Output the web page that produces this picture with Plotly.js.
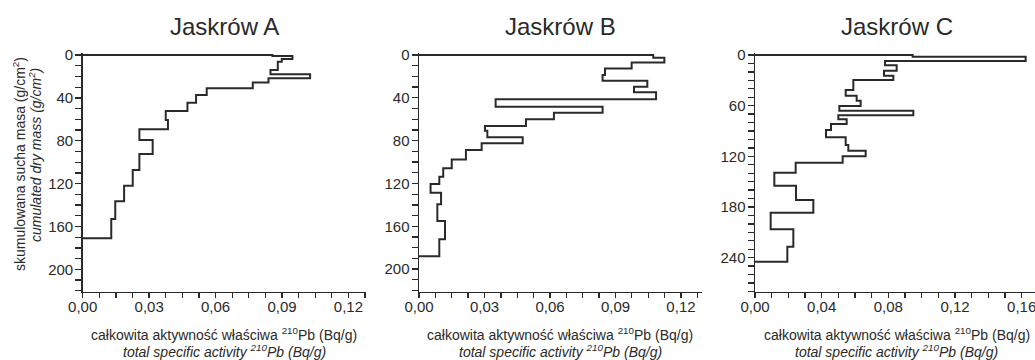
<!DOCTYPE html>
<html>
<head>
<meta charset="utf-8">
<script src="https://cdn.plot.ly/plotly-3.0.1.min.js"></script>
<style>
  html, body { margin: 0; padding: 0; background: #fff; overflow: hidden; }
  #chart { width: 1035px; height: 360px; }
</style>
</head>
<body>
<div id="chart"></div>
<script>
// ---- Data ----
// Layer boundaries: cumulated dry mass (g/cm2), n+1 values; activity: n values (Bq/g)
const panelTitles = ["Jaskrów A", "Jaskrów B", "Jaskrów C"];

const massA = [0, 1, 3.7, 6.2, 14, 18, 21.8, 25.7, 31.1, 37.3, 44.5, 52.3, 60.7, 69.4, 79.3, 92.4, 107.3, 122, 136.5, 153, 171];
const activityA = [0.0857, 0.0947, 0.0899, 0.0881, 0.0848, 0.1027, 0.0839, 0.0768, 0.0560, 0.0512, 0.0473, 0.0375, 0.0385, 0.0256, 0.0316, 0.0256, 0.0226, 0.0187, 0.0147, 0.0129];

const massB = [0, 2.5, 6.9, 12.5, 18.7, 24, 29.6, 34.9, 41.4, 48.3, 53.9, 60.1, 66.4, 70.7, 76.9, 82.5, 88.8, 97.5, 105.9, 113.7, 120.6, 128.7, 139.3, 155.1, 172, 187.9];
const activityB = [0.1073, 0.1124, 0.0974, 0.0852, 0.0841, 0.1046, 0.0985, 0.1086, 0.0351, 0.0841, 0.0618, 0.0490, 0.0302, 0.0313, 0.0475, 0.0287, 0.0215, 0.0150, 0.0111, 0.0093, 0.0053, 0.0101, 0.0084, 0.0119, 0.0093];

const massC = [0, 2, 7.1, 12.2, 18.5, 24.5, 29.6, 41.4, 48.2, 54.1, 60.4, 65.9, 71.4, 76.2, 81.7, 88.8, 97.5, 106.6, 113.3, 120, 127.5, 139.3, 154.7, 171.7, 186.7, 206.4, 227, 244.8];
const activityC = [0.0946, 0.1624, 0.0780, 0.0850, 0.0774, 0.0830, 0.0590, 0.0544, 0.0610, 0.0634, 0.0506, 0.0950, 0.0500, 0.0550, 0.0456, 0.0426, 0.0544, 0.0560, 0.0664, 0.0526, 0.0244, 0.0116, 0.0246, 0.0350, 0.0094, 0.0230, 0.0194];

const xTicksAB = [0, 0.03, 0.06, 0.09, 0.12];
const xTicksC = [0, 0.04, 0.08, 0.12, 0.16];
const yTicksAB = [0, 40, 80, 120, 160, 200];
const yTicksC = [0, 60, 120, 180, 240];

const xTitlePL = "całkowita aktywność właściwa <sup>210</sup>Pb (Bq/g)";
const xTitleEN = "<i>total specific activity <sup>210</sup>Pb (Bq/g)</i>";
const yTitlePL = "skumulowana sucha masa (g/cm<sup>2</sup>)";
const yTitleEN = "<i>cumulated dry mass (g/cm<sup>2</sup>)</i>";

// ---- Build step profiles ----
function stepProfile(bounds, vals) {
  const x = [0], y = [bounds[0]];
  for (let i = 0; i < vals.length; i++) {
    x.push(vals[i], vals[i]);
    y.push(bounds[i], bounds[i + 1]);
  }
  x.push(0); y.push(bounds[bounds.length - 1]);
  return {x, y};
}

const W = 1035, H = 360;
const FONT = "Liberation Sans, Arial, Helvetica, sans-serif";
const INK = "#2a2a2a";

const panels = [
  {mass: massA, act: activityA, xdom: [82.7 / W, 365.7 / W], xr: [0, 0.1278], xt: xTicksAB, xminor: 0.0075, yr: [220.9, -1.5], yt: yTicksAB},
  {mass: massB, act: activityB, xdom: [419 / W, 701.7 / W], xr: [0, 0.1295], xt: xTicksAB, xminor: 0.0075, yr: [221.1, -1.5], yt: yTicksAB},
  {mass: massC, act: activityC, xdom: [755 / W, 1], xr: [0, 0.168], xt: xTicksC, xminor: 0.01, yr: [280.3, -1.9], yt: yTicksC}
];

const ydom = [1 - 291.7 / H, 1 - 53.4 / H];
const traces = [];
const layout = {
  width: W, height: H, autosize: false,
  margin: {l: 0, r: 0, t: 0, b: 0, pad: 0},
  paper_bgcolor: "#fff", plot_bgcolor: "#fff",
  showlegend: false,
  separators: ", ",
  font: {family: FONT, size: 14, color: INK},
  annotations: []
};

panels.forEach((p, i) => {
  const sfx = i === 0 ? "" : String(i + 1);
  const s = stepProfile(p.mass, p.act);
  traces.push({
    type: "scatter", mode: "lines",
    x: s.x, y: s.y,
    xaxis: "x" + sfx, yaxis: "y" + sfx,
    line: {color: INK, width: 2, shape: "linear"},
    hoverinfo: "skip"
  });
  layout["xaxis" + sfx] = {
    domain: p.xdom, range: p.xr, anchor: "y" + sfx,
    showgrid: false, zeroline: false, showline: true, linecolor: INK, linewidth: 1.5,
    ticks: "outside", ticklen: 5, tickwidth: 1.3, tickcolor: INK,
    tickmode: "array", tickvals: p.xt, tickformat: ".2f",
    ticklabelstandoff: -4, ticklabeloverflow: "allow",
    tickfont: {family: FONT, size: 15, color: INK},
    minor: {dtick: p.xminor, tick0: 0, ticks: "outside", ticklen: 5, tickwidth: 1.3, tickcolor: INK, showgrid: false},
    automargin: false, fixedrange: true
  };
  layout["yaxis" + sfx] = {
    domain: ydom, range: p.yr, anchor: "x" + sfx,
    showgrid: false, zeroline: false, showline: true, linecolor: INK, linewidth: 1.5,
    ticks: "outside", ticklen: 6, tickwidth: 1.3, tickcolor: INK,
    tickmode: "array", tickvals: p.yt,
    ticklabelstandoff: -1, ticklabeloverflow: "allow",
    tickfont: {family: FONT, size: 15, color: INK},
    minor: {dtick: 10, tick0: 0, ticks: "outside", ticklen: 6, tickwidth: 1.3, tickcolor: INK, showgrid: false},
    automargin: false, fixedrange: true
  };
  const cx = (p.xdom[0] + p.xdom[1]) / 2;
  const cxTitle = i === 2 ? (755 + 283 / 2) / W : cx;
  layout.annotations.push(
    {text: panelTitles[i], xref: "paper", yref: "paper", x: cxTitle, y: 1 - 27 / H,
     xanchor: "center", yanchor: "middle", showarrow: false,
     font: {family: FONT, size: 24, color: INK}},
    {text: xTitlePL, xref: "paper", yref: "paper", x: cxTitle, y: 1 - 334 / H,
     xanchor: "center", yanchor: "middle", showarrow: false,
     font: {family: FONT, size: 14, color: INK}},
    {text: xTitleEN, xref: "paper", yref: "paper", x: cxTitle, y: 1 - 351 / H,
     xanchor: "center", yanchor: "middle", showarrow: false,
     font: {family: FONT, size: 14, color: INK}}
  );
});

layout.annotations.push(
  {text: yTitlePL, xref: "paper", yref: "paper", x: 19 / W, y: 1 - 164 / H,
   xanchor: "center", yanchor: "middle", textangle: -90, showarrow: false,
   font: {family: FONT, size: 14, color: INK}},
  {text: yTitleEN, xref: "paper", yref: "paper", x: 35 / W, y: 1 - 155 / H,
   xanchor: "center", yanchor: "middle", textangle: -90, showarrow: false,
   font: {family: FONT, size: 14, color: INK}}
);

Plotly.newPlot("chart", traces, layout, {staticPlot: true, displayModeBar: false});
</script>
</body>
</html>
